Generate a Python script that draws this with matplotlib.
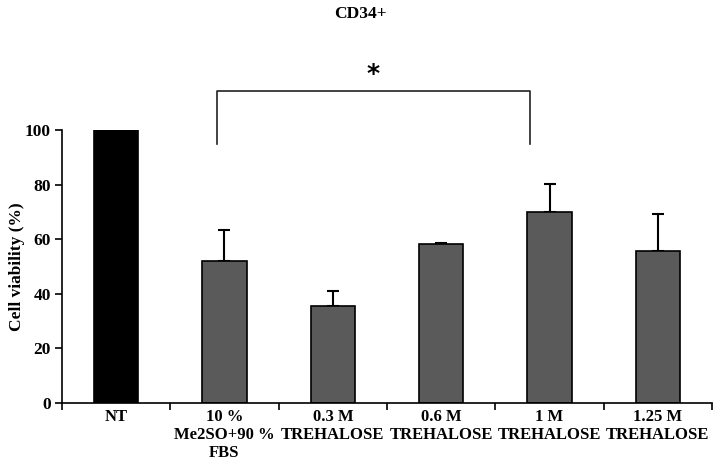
# Пример запуска из терминала:
# python plot.py

import matplotlib
matplotlib.use("Agg")
import matplotlib.pyplot as plt
import numpy as np

# Данные графика
groups = ['NT', '10 %\nMe2SO+90 %\nFBS', '0.3 M\nTREHALOSE', '0.6 M\nTREHALOSE',
          '1 M\nTREHALOSE', '1.25 M\nTREHALOSE']
viability = [100, 52, 35.6, 58.1, 70.1, 55.7]
errors_up = [0, 11.4, 5.4, 0.6, 10.0, 13.4]
bar_colors = ['black', '#5a5a5a', '#5a5a5a', '#5a5a5a', '#5a5a5a', '#5a5a5a']
y_ticks = [0, 20, 40, 60, 80, 100]


#-----------------------------------------
#  Строит и сохраняет столбчатую диаграмму.
#------------------------------------------
def create_and_save_barchart(filename="out.png"):
    plt.rcParams['font.family'] = ['Liberation Serif', 'DejaVu Serif']
    plt.rcParams['font.weight'] = 'bold'

    fig = plt.figure(figsize=(7.2, 4.67), dpi=100)
    ax = fig.add_axes([0.0861, 0.137, 0.9028, 0.5846])

    x = np.arange(len(groups))
    ax.bar(x, viability, width=0.41, color=bar_colors, edgecolor='black',
           linewidth=1.2, zorder=2)
    # Только верхние "усы" ошибок
    ax.errorbar(x[1:], viability[1:], yerr=[np.zeros(len(x) - 1), errors_up[1:]],
                fmt='none', ecolor='black', elinewidth=1.5, capsize=4,
                capthick=1.5, zorder=1)

    ax.set_xlim(-0.5, len(groups) - 0.5)
    ax.set_ylim(0, 100)
    ax.set_yticks(y_ticks)
    ax.tick_params(axis='y', direction='out', length=5, width=1.2,
                   labelsize=12.5, pad=3)

    # Деления оси X на границах категорий, подписи по центру
    ax.set_xticks(np.arange(len(groups) + 1) - 0.5)
    ax.set_xticklabels([])
    ax.set_xticks(x, minor=True)
    ax.set_xticklabels(groups, minor=True, fontsize=12, linespacing=1.2)
    ax.tick_params(axis='x', which='major', direction='out', length=5, width=1.2)
    ax.tick_params(axis='x', which='minor', length=0, pad=4)

    for side in ['top', 'right']:
        ax.spines[side].set_visible(False)
    for side in ['left', 'bottom']:
        ax.spines[side].set_linewidth(1.2)

    ax.set_ylabel('Cell viability (%)', fontsize=12.5, fontweight='bold', labelpad=0)

    # Скобка значимости между 10 % Me2SO и 1 M
    left_x, right_x = 0.93, 3.82
    ax.plot([left_x, left_x, right_x, right_x], [95, 114.4, 114.4, 95],
            color='#222222', linewidth=1.2, clip_on=False)
    ax.text((left_x + right_x) / 2, 116, '*', ha='center', va='bottom',
            fontsize=18, fontweight='bold', family='DejaVu Sans')

    fig.text(0.5, 0.988, 'CD34+', ha='center', va='top', fontsize=12.5,
             fontweight='bold')

    fig.savefig(filename, dpi=100)
    print("График сохранен:", filename)


if __name__ == "__main__":
    create_and_save_barchart()
